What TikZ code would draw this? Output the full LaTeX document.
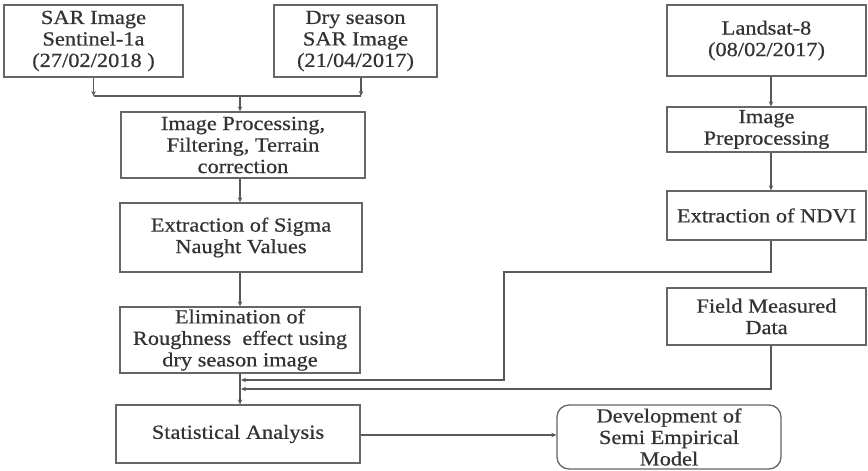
\documentclass[tikz,border=0pt]{standalone}
\usepackage{fontspec}
\setmainfont{Liberation Serif}[FakeStretch=1.12,FakeBold=0.6]
\usetikzlibrary{arrows.meta}
\begin{document}
\begin{tikzpicture}[x=1pt,y=-1pt,
 box/.style={draw=black!60, line width=1.3pt, align=center, text=black!80, inner sep=0pt, font=\fontsize{20}{21.5}\selectfont},
 conn/.style={draw=black!65, line width=1.2pt},
 arr/.style={conn, -{Stealth[length=5pt,width=4.5pt]}}]
\useasboundingbox (0,0) rectangle (868,471);
% left column
\node[box, minimum width=179pt, minimum height=72pt] (sar) at (93.5,41) {SAR Image\\Sentinel-1a\\(27/02/2018 )};
\node[box, minimum width=163pt, minimum height=72pt] (dry) at (355.5,41) {Dry season\\SAR Image\\(21/04/2017)};
\node[box, minimum width=244pt, minimum height=66pt] (proc) at (243,145) {Image Processing,\\Filtering, Terrain\\correction};
\node[box, minimum width=242pt, minimum height=69pt] (sigma) at (241,237.5) {Extraction of Sigma\\Naught Values};
\node[box, minimum width=240pt, minimum height=66pt] (elim) at (240,340) {Elimination of\\Roughness\ \ effect using\\dry season image};
\node[box, minimum width=244pt, minimum height=58pt] (stat) at (238,434) {Statistical Analysis};
\node[box, rounded corners=12pt, minimum width=224pt, minimum height=64pt] (dev) at (669,437) {Development of\\Semi Empirical\\Model};
% right column
\node[box, minimum width=199pt, minimum height=71pt] (land) at (766.5,40.5) {Landsat-8\\(08/02/2017)};
\node[box, minimum width=199pt, minimum height=45pt] (pre) at (766.5,129.5) {Image\\Preprocessing};
\node[box, minimum width=199pt, minimum height=49pt] (ndvi) at (766.5,215.5) {Extraction of NDVI};
\node[box, minimum width=199pt, minimum height=57pt] (field) at (766.5,316.5) {Field Measured\\Data};
% junction of the two SAR images
\coordinate (j1) at (93.5,96);
\coordinate (j2) at (361,96);
\coordinate (jm) at (240,96);
\draw[arr] (sar.south) -- (j1);
\draw[arr] (dry.south -| j2) -- (j2);
\draw[conn] (j1) -- (j2);
\draw[arr] (jm) -- (proc.north -| jm);
\draw[arr] (proc.south -| jm) -- (sigma.north -| jm);
\draw[arr] (sigma.south -| jm) -- (elim.north -| jm);
\draw[arr] (elim.south -| jm) -- (stat.north -| jm);
% right column arrows
\coordinate (rx) at (771,0);
\draw[arr] (land.south -| rx) -- (pre.north -| rx);
\draw[arr] (pre.south -| rx) -- (ndvi.north -| rx);
\coordinate (n1) at (771,272);
\coordinate (n2) at (504,272);
\coordinate (n3) at (504,380);
\coordinate (n4) at (241,380);
\draw[arr] (ndvi.south -| rx) -- (n1) -- (n2) -- (n3) -- (n4);
\coordinate (f1) at (771,389);
\coordinate (f2) at (241,389);
\draw[arr] (field.south -| rx) -- (f1) -- (f2);
% to model
\draw[arr] (stat.east |- 0,435) -- (dev.west |- 0,435);
\end{tikzpicture}
\end{document}
